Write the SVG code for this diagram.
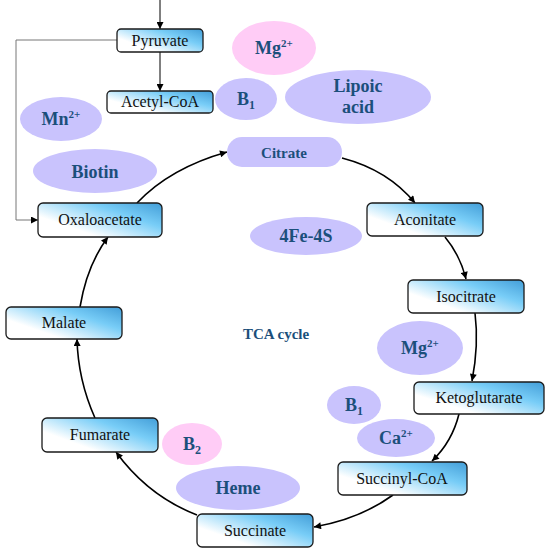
<svg xmlns="http://www.w3.org/2000/svg" width="550" height="552" viewBox="0 0 550 552">
<defs>
<linearGradient id="boxg" x1="0" y1="0.9" x2="1" y2="0.1">
<stop offset="0" stop-color="#ffffff"/>
<stop offset="0.25" stop-color="#ffffff"/>
<stop offset="0.7" stop-color="#78cdf7"/>
<stop offset="1" stop-color="#4aa4dc"/>
</linearGradient>
<marker id="ah" viewBox="0 0 10 10" refX="10" refY="5" markerWidth="9" markerHeight="7" markerUnits="userSpaceOnUse" orient="auto">
<path d="M0,0 L10,5 L0,10 z" fill="#000"/>
</marker>
</defs>
<style>
.box{fill:url(#boxg);stroke:#1a1a1a;stroke-width:1.3}
.bl{font-family:"Liberation Serif","DejaVu Serif",serif;font-size:16px;fill:#111;text-anchor:middle}
.pur{fill:#c9c3fd}
.pink{fill:#ffccf6}
.el{font-family:"Liberation Serif","DejaVu Serif",serif;font-size:18px;font-weight:bold;fill:#1b4f7b;text-anchor:middle}
.arc{fill:none;stroke:#000;stroke-width:1.6;marker-end:url(#ah)}
.thin{fill:none;stroke:#000;stroke-width:1;marker-end:url(#ah)}
.gray{fill:none;stroke:#777;stroke-width:1;marker-end:url(#ah)}
</style>
<rect width="550" height="552" fill="#fff"/>

<g id="connectors">
<path class="thin" d="M160,0 L160,29"/>
<path class="thin" d="M160,52 L160,91"/>
<path class="gray" d="M117,40 L16,40 L16,220 L38,220"/>
<path class="arc" d="M137,203 Q170,168 227,152"/>
<path class="arc" d="M342,158 Q388,170 415,203"/>
<path class="arc" d="M445,237 Q460,255 466,279"/>
<path class="arc" d="M475,313 Q479,345 472,381"/>
<path class="arc" d="M459,414 Q452,442 432,461"/>
<path class="arc" d="M393,495 Q360,519 314,527"/>
<path class="arc" d="M197,515 Q148,496 116,452"/>
<path class="arc" d="M95,418 Q78,380 77,339"/>
<path class="arc" d="M80,307 Q87,265 108,237"/>
</g>

<g id="pyruvate"><rect class="box" x="117" y="29" width="86" height="23" rx="4"/><text class="bl" x="160" y="46">Pyruvate</text></g>
<g id="acetylcoa"><rect class="box" x="107" y="91" width="106" height="22" rx="4"/><text class="bl" x="160" y="107">Acetyl-CoA</text></g>
<g id="oxaloacetate"><rect class="box" x="38" y="203" width="124" height="34" rx="5"/><text class="bl" x="100" y="225">Oxaloacetate</text></g>
<g id="citrate"><rect class="pur" x="227" y="137" width="115" height="30" rx="15"/><text class="el" x="284" y="158" style="font-size:15px">Citrate</text></g>
<g id="aconitate"><rect class="box" x="367" y="203" width="116" height="33" rx="5"/><text class="bl" x="425" y="225">Aconitate</text></g>
<g id="isocitrate"><rect class="box" x="408" y="280" width="116" height="33" rx="5"/><text class="bl" x="466" y="302">Isocitrate</text></g>
<g id="ketoglutarate"><rect class="box" x="414" y="382" width="130" height="32" rx="5"/><text class="bl" x="479" y="403">Ketoglutarate</text></g>
<g id="succinylcoa"><rect class="box" x="338" y="462" width="129" height="33" rx="5"/><text class="bl" x="402" y="484">Succinyl-CoA</text></g>
<g id="succinate"><rect class="box" x="197" y="514" width="116" height="33" rx="5"/><text class="bl" x="255" y="536">Succinate</text></g>
<g id="fumarate"><rect class="box" x="42" y="418" width="116" height="34" rx="5"/><text class="bl" x="100" y="440">Fumarate</text></g>
<g id="malate"><rect class="box" x="6" y="307" width="116" height="32" rx="5"/><text class="bl" x="64" y="328">Malate</text></g>

<g id="mg1"><ellipse class="pink" cx="274" cy="48" rx="42" ry="27"/><text class="el" x="274" y="54">Mg<tspan dy="-7" font-size="11">2+</tspan></text></g>
<g id="b1a"><ellipse class="pur" cx="246" cy="99" rx="31" ry="21"/><text class="el" x="246" y="105">B<tspan dy="4" font-size="12">1</tspan></text></g>
<g id="lipoic"><ellipse class="pur" cx="358" cy="97" rx="73" ry="27"/><text class="el" x="358" y="92">Lipoic</text><text class="el" x="358" y="113">acid</text></g>
<g id="mn"><ellipse class="pur" cx="61" cy="119" rx="41" ry="22"/><text class="el" x="61" y="125">Mn<tspan dy="-7" font-size="11">2+</tspan></text></g>
<g id="biotin"><ellipse class="pur" cx="95" cy="171" rx="62" ry="22"/><text class="el" x="95" y="178">Biotin</text></g>
<g id="fes"><ellipse class="pur" cx="306" cy="236" rx="56" ry="19"/><text class="el" x="306" y="242">4Fe-4S</text></g>
<g id="tca"><text class="el" x="276" y="339" style="font-size:15px">TCA cycle</text></g>
<g id="mg2"><ellipse class="pur" cx="420" cy="348" rx="43" ry="27"/><text class="el" x="420" y="354">Mg<tspan dy="-7" font-size="11">2+</tspan></text></g>
<g id="b1b"><ellipse class="pur" cx="354" cy="405" rx="27" ry="19"/><text class="el" x="354" y="411">B<tspan dy="4" font-size="12">1</tspan></text></g>
<g id="ca"><ellipse class="pur" cx="396" cy="438" rx="39" ry="19"/><text class="el" x="396" y="444">Ca<tspan dy="-7" font-size="11">2+</tspan></text></g>
<g id="b2"><ellipse class="pink" cx="192" cy="444" rx="30" ry="21"/><text class="el" x="192" y="450">B<tspan dy="4" font-size="12">2</tspan></text></g>
<g id="heme"><ellipse class="pur" cx="238" cy="488" rx="62" ry="22"/><text class="el" x="238" y="494">Heme</text></g>
</svg>
